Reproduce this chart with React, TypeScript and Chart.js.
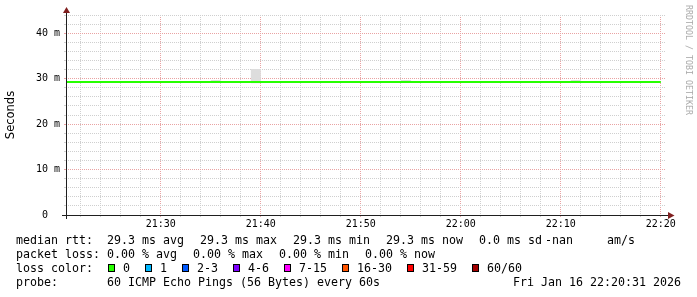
import { useEffect, useRef } from "react";
import { Chart, registerables } from "chart.js";

Chart.register(...registerables);

// ---- data ----
const times = [
  "21:20", "21:21", "21:22", "21:23", "21:24", "21:25", "21:26", "21:27", "21:28", "21:29",
  "21:30", "21:31", "21:32", "21:33", "21:34", "21:35", "21:36", "21:37", "21:38", "21:39",
  "21:40", "21:41", "21:42", "21:43", "21:44", "21:45", "21:46", "21:47", "21:48", "21:49",
  "21:50", "21:51", "21:52", "21:53", "21:54", "21:55", "21:56", "21:57", "21:58", "21:59",
  "22:00", "22:01", "22:02", "22:03", "22:04", "22:05", "22:06", "22:07", "22:08", "22:09",
  "22:10", "22:11", "22:12", "22:13", "22:14", "22:15", "22:16", "22:17", "22:18", "22:19",
  "22:20",
];

// median rtt in ms
const medianRtt = [
  29.26, 29.26, 29.26, 29.26, 29.26, 29.26, 29.26, 29.26, 29.26, 29.26,
  29.26, 29.26, 29.26, 29.26, 29.26, 29.26, 29.26, 29.26, 29.26, 29.26,
  29.26, 29.26, 29.26, 29.26, 29.26, 29.26, 29.26, 29.26, 29.26, 29.26,
  29.26, 29.26, 29.26, 29.26, 29.26, 29.26, 29.26, 29.26, 29.26, 29.26,
  29.26, 29.26, 29.26, 29.26, 29.26, 29.26, 29.26, 29.26, 29.26, 29.26,
  29.26, 29.26, 29.26, 29.26, 29.26, 29.26, 29.26, 29.26, 29.26, 29.26,
  29.26,
];

// smoke band (lowest / highest ping) in ms
const smokeLow = [
  29.26, 29.26, 29.26, 29.26, 29.26, 29.26, 29.26, 29.26, 29.26, 29.26,
  29.26, 29.26, 29.26, 29.26, 29.26, 29.26, 29.2, 29.26, 29.26, 29.26,
  29.0, 29.26, 29.26, 29.26, 29.26, 29.26, 29.26, 29.26, 29.26, 29.26,
  29.26, 29.26, 29.26, 29.26, 29.26, 29.2, 29.26, 29.26, 29.26, 29.26,
  29.26, 29.26, 29.26, 29.26, 29.26, 29.26, 29.26, 29.26, 29.26, 29.26,
  29.26, 29.26, 29.2, 29.26, 29.26, 29.26, 29.26, 29.26, 29.26, 29.26,
  29.26,
];
const smokeHigh = [
  29.26, 29.26, 29.26, 29.26, 29.26, 29.26, 29.26, 29.26, 29.26, 29.26,
  29.26, 29.26, 29.26, 29.26, 29.26, 29.26, 29.7, 29.26, 29.26, 29.26,
  32.1, 29.26, 29.26, 29.26, 29.26, 29.26, 29.26, 29.26, 29.26, 29.26,
  29.26, 29.26, 29.26, 29.26, 29.26, 29.7, 29.26, 29.26, 29.26, 29.26,
  29.26, 29.26, 29.26, 29.26, 29.26, 29.26, 29.26, 29.26, 29.26, 29.26,
  29.26, 29.26, 29.7, 29.26, 29.26, 29.26, 29.26, 29.26, 29.26, 29.26,
  29.26,
];

const startTime = "21:20:31";
const endTime = "22:20:31";
const yMax = 44;
const gridStep = 2;
const majorStep = 10;

const rttLabel = "median rtt:";
const rttValues = ["29.3 ms avg", "29.3 ms max", "29.3 ms min", "29.3 ms now", "0.0 ms sd"];
const rttExtra = ["-nan", "am/s"];
const lossLabel = "packet loss:";
const lossValues = ["0.00 % avg", "0.00 % max", "0.00 % min", "0.00 % now"];
const lossColorLabel = "loss color:";
const lossColorNames = ["0", "1", "2-3", "4-6", "7-15", "16-30", "31-59", "60/60"];
const lossColorValues = ["#26ff00", "#00b8ff", "#0059ff", "#7e00ff", "#ff00ff", "#ff5500", "#ff0000", "#a10000"];
const probeLabel = "probe:";
const probeText = "60 ICMP Echo Pings (56 Bytes) every 60s";
const dateText = "Fri Jan 16 22:20:31 2026";
const watermark = "RRDTOOL / TOBI OETIKER";

// ---- helpers ----
const BASE_HOUR = 21;
function toMin(t: string): number {
  const p = t.split(":").map(Number);
  return (p[0] - BASE_HOUR) * 60 + p[1] + (p[2] || 0) / 60;
}
function fmtMin(v: number): string {
  const h = BASE_HOUR + Math.floor(v / 60);
  const m = Math.round(v % 60);
  return `${h}:${String(m).padStart(2, "0")}`;
}

const MINOR = "#cfcfcf";
const MAJOR = "#e9a3a3";
const AXIS = "#1f1f1f";
const ARROW = "#801f1f";

const W = 697;
const H = 297;
const AREA_LEFT = 66;
const AREA_RIGHT = 666;
const AREA_TOP = 15;
const AREA_BOTTOM = 215;

const gridColor = (ctx: any) => {
  const v = ctx.tick ? ctx.tick.value : undefined;
  if (v === undefined) return MINOR;
  if (ctx.scale && ctx.scale.axis === "y" && v === 0) return "rgba(0,0,0,0)";
  return Math.abs(v % majorStep) < 1e-9 ? MAJOR : MINOR;
};

const axisPlugin = {
  id: "rrdAxes",
  afterDraw(chart: any) {
    const { ctx, chartArea } = chart;
    const y0 = Math.round(chart.scales.y.getPixelForValue(0)) + 0.5;
    const x0 = chartArea.left + 0.5;
    ctx.save();
    ctx.strokeStyle = AXIS;
    ctx.lineWidth = 1;
    ctx.beginPath();
    ctx.moveTo(chartArea.left - 4, y0);
    ctx.lineTo(chartArea.right + 4, y0);
    ctx.moveTo(x0, chartArea.bottom + 4);
    ctx.lineTo(x0, chartArea.top - 4);
    ctx.stroke();
    ctx.fillStyle = ARROW;
    ctx.beginPath();
    ctx.moveTo(chartArea.right + 2, y0 - 3.5);
    ctx.lineTo(chartArea.right + 2, y0 + 3.5);
    ctx.lineTo(chartArea.right + 8.5, y0);
    ctx.closePath();
    ctx.fill();
    ctx.beginPath();
    ctx.moveTo(x0 - 3.5, chartArea.top - 2);
    ctx.lineTo(x0 + 3.5, chartArea.top - 2);
    ctx.lineTo(x0, chartArea.top - 8);
    ctx.closePath();
    ctx.fill();
    ctx.restore();
  },
};

const MONO = "'DejaVu Sans Mono', monospace";

export default function App() {
  const ref = useRef<HTMLCanvasElement>(null);

  useEffect(() => {
    const canvas = ref.current;
    if (!canvas) return;
    const xs = times.map(toMin);
    const chart = new Chart(canvas, {
      type: "line",
      data: {
        datasets: [
          {
            label: "median",
            data: xs.map((x, i) => ({ x, y: medianRtt[i] })),
            borderColor: "#26ff00",
            borderWidth: 2,
            pointRadius: 0,
            stepped: "after",
            fill: false,
            order: 0,
          },
          {
            label: "smokeLow",
            data: xs.map((x, i) => ({ x, y: smokeLow[i] })),
            borderColor: "rgba(0,0,0,0)",
            borderWidth: 1,
            pointRadius: 0,
            stepped: "after",
            fill: false,
            order: 2,
          },
          {
            label: "smokeHigh",
            data: xs.map((x, i) => ({ x, y: smokeHigh[i] })),
            borderColor: "rgba(0,0,0,0)",
            backgroundColor: "#dddddd",
            borderWidth: 1,
            pointRadius: 0,
            stepped: "after",
            fill: "-1",
            order: 1,
          },
        ],
      },
      options: {
        animation: false,
        responsive: false,
        devicePixelRatio: 1,
        events: [],
        layout: { padding: { left: 0, top: AREA_TOP, right: W - AREA_RIGHT, bottom: 0 } },
        plugins: { legend: { display: false }, tooltip: { enabled: false } },
        scales: {
          x: {
            type: "linear",
            min: toMin(startTime),
            max: toMin(endTime),
            afterBuildTicks: (scale: any) => {
              const ticks: { value: number }[] = [];
              for (let v = Math.ceil(scale.min / gridStep) * gridStep; v <= scale.max; v += gridStep) {
                ticks.push({ value: v });
              }
              scale.ticks = ticks;
            },
            afterFit: (scale: any) => {
              scale.height = H - AREA_BOTTOM;
            },
            ticks: {
              autoSkip: false,
              maxRotation: 0,
              minRotation: 0,
              padding: 1,
              color: "#000",
              font: { family: MONO, size: 10 },
              callback: (v: any) => (Math.abs(Number(v) % majorStep) < 1e-9 ? fmtMin(Number(v)) : ""),
            },
            grid: { color: gridColor, tickColor: gridColor, lineWidth: 1, drawTicks: true, tickLength: 2 },
            border: { display: false, dash: [1, 1] },
          },
          y: {
            type: "linear",
            min: 0,
            max: yMax,
            afterFit: (scale: any) => {
              scale.width = AREA_LEFT;
            },
            ticks: {
              stepSize: gridStep,
              autoSkip: false,
              padding: 4,
              color: "#000",
              font: { family: MONO, size: 10 },
              callback: (v: any) => {
                const n = Number(v);
                if (n % majorStep !== 0) return "";
                return n === 0 ? "0  " : `${n} m`;
              },
            },
            grid: { color: gridColor, tickColor: gridColor, lineWidth: 1, drawTicks: true, tickLength: 2 },
            border: { display: false, dash: [1, 1] },
            title: {
              display: true,
              text: "Seconds",
              color: "#000",
              padding: 4,
              font: { family: "'DejaVu Sans', sans-serif", size: 11.5 },
            },
          },
        },
      },
      plugins: [axisPlugin],
    } as any);
    return () => chart.destroy();
  }, []);

  const rowStyle: React.CSSProperties = { height: 13.9, whiteSpace: "pre" };

  return (
    <div
      style={{
        position: "absolute",
        left: 0,
        top: 0,
        width: W,
        height: H,
        background: "#fff",
        overflow: "hidden",
      }}
    >
      <canvas
        ref={ref}
        width={W}
        height={H}
        style={{ position: "absolute", left: 0, top: 0, width: W, height: H }}
      />
      <div
        style={{
          position: "absolute",
          left: 693,
          top: 5,
          transformOrigin: "0 0",
          transform: "rotate(90deg)",
          fontFamily: MONO,
          fontSize: 8.3,
          lineHeight: "8px",
          color: "#aaaaaa",
          whiteSpace: "pre",
        }}
      >
        {watermark}
      </div>
      <div
        style={{
          position: "absolute",
          left: 16,
          top: 234,
          width: 665,
          fontFamily: MONO,
          fontSize: 11.63,
          lineHeight: "13.9px",
          color: "#000",
        }}
      >
        <div style={rowStyle}>
          <span>{rttLabel.padEnd(13)}</span>
          {rttValues.map((t, i) => (
            <span key={t + i} style={{ marginLeft: i === 0 ? 0 : 16 }}>
              {t}
            </span>
          ))}
          <span style={{ marginLeft: 3 }}>{rttExtra[0]}</span>
          <span style={{ marginLeft: 34 }}>{rttExtra[1]}</span>
        </div>
        <div style={rowStyle}>
          <span>{lossLabel.padEnd(13)}</span>
          {lossValues.map((t, i) => (
            <span key={t + i} style={{ marginLeft: i === 0 ? 0 : 16 }}>
              {t}
            </span>
          ))}
        </div>
        <div style={rowStyle}>
          <span>{lossColorLabel.padEnd(13)}</span>
          {lossColorNames.map((name, i) => (
            <span key={name} style={{ marginLeft: i === 0 ? 1 : 15 }}>
              <span
                style={{
                  display: "inline-block",
                  width: 5,
                  height: 6,
                  border: "1px solid #000",
                  background: lossColorValues[i],
                  marginRight: 8,
                }}
              />
              {name}
            </span>
          ))}
        </div>
        <div style={{ ...rowStyle, display: "flex", justifyContent: "space-between" }}>
          <span>
            {probeLabel.padEnd(13)}
            {probeText}
          </span>
          <span>{dateText}</span>
        </div>
      </div>
    </div>
  );
}
